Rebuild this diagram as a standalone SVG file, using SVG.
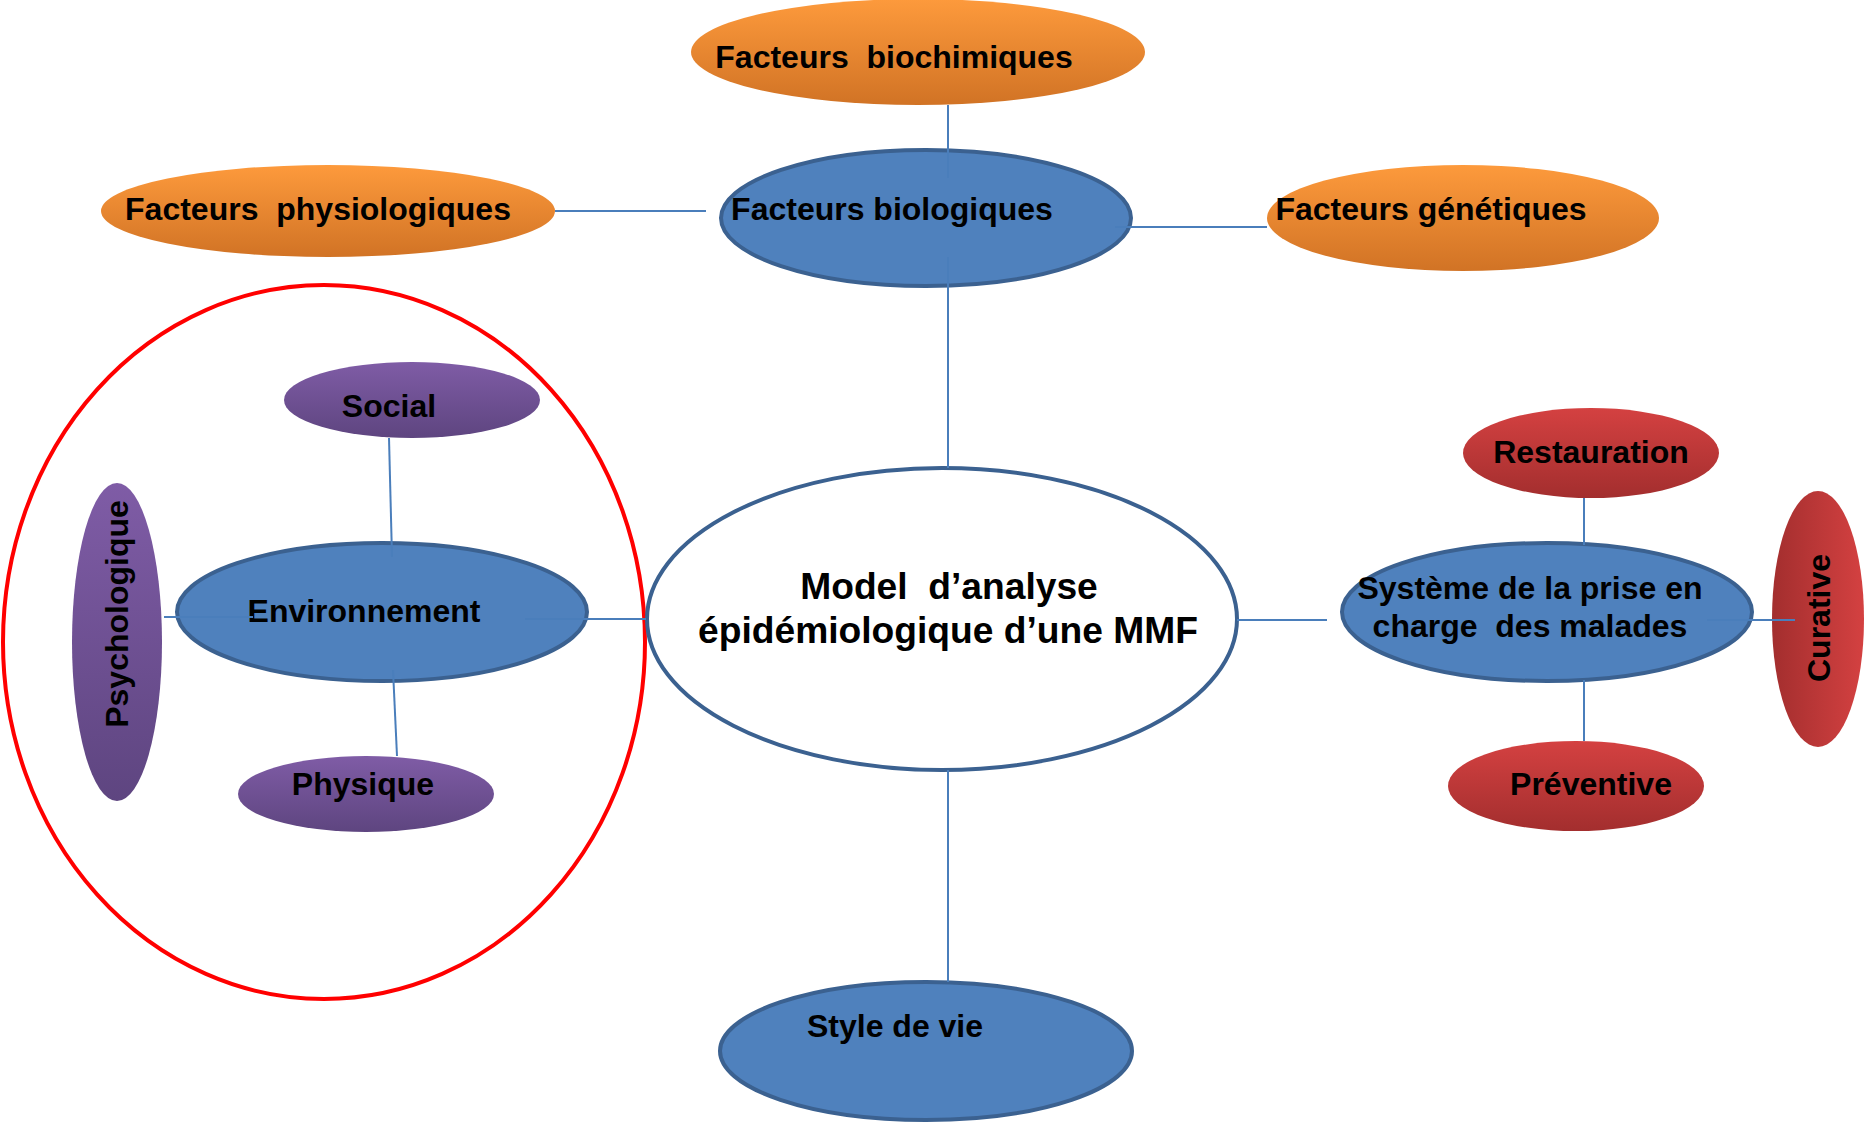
<svg xmlns="http://www.w3.org/2000/svg" width="1865" height="1123" viewBox="0 0 1865 1123">
<defs>
<linearGradient id="gOrange" x1="0" y1="0" x2="0" y2="1"><stop offset="0" stop-color="#fd9a3c"/><stop offset="1" stop-color="#d17325"/></linearGradient>
<linearGradient id="gPurple" x1="0" y1="0" x2="0" y2="1"><stop offset="0" stop-color="#7f5ca6"/><stop offset="1" stop-color="#5e4580"/></linearGradient>
<linearGradient id="gRed" x1="0" y1="0" x2="0" y2="1"><stop offset="0" stop-color="#d44141"/><stop offset="1" stop-color="#a32e2e"/></linearGradient>
<linearGradient id="gRedH" x1="1" y1="0" x2="0" y2="0"><stop offset="0" stop-color="#d44141"/><stop offset="1" stop-color="#a32e2e"/></linearGradient>
</defs>
<style>
text{font-family:"Liberation Sans",Arial,sans-serif;font-weight:bold;fill:#000;white-space:pre}
.t32{font-size:32px}
.t37{font-size:37.2px}
.blue{fill:#4f81bd;stroke:#3b6190;stroke-width:4}
.orange{fill:url(#gOrange)}
.purple{fill:url(#gPurple)}
.red{fill:url(#gRed)}
.conn{stroke:#4a7ebb;stroke-width:2;fill:none}
</style>
<rect width="1865" height="1123" fill="#fff"/>
<g id="group-boundary"><ellipse cx="324" cy="642" rx="321" ry="357" fill="none" stroke="#ff0000" stroke-width="4"/></g>
<g id="node-biochimiques"><ellipse class="orange" cx="918" cy="52" rx="227" ry="53"/><text class="t32" x="894" y="68" text-anchor="middle">Facteurs  biochimiques</text></g>
<g id="node-physiologiques"><ellipse class="orange" cx="328" cy="211" rx="227" ry="46"/><text class="t32" x="318" y="220" text-anchor="middle">Facteurs  physiologiques</text></g>
<g id="node-genetiques"><ellipse class="orange" cx="1463" cy="218" rx="196" ry="53"/><text class="t32" x="1431" y="220" text-anchor="middle">Facteurs génétiques</text></g>
<g id="node-biologiques"><ellipse class="blue" cx="926" cy="218" rx="205" ry="68"/><text class="t32" x="892" y="220" text-anchor="middle">Facteurs biologiques</text></g>
<g id="node-social"><ellipse class="purple" cx="412" cy="400" rx="128" ry="38"/><text class="t32" x="389" y="417" text-anchor="middle">Social</text></g>
<g id="node-psychologique"><ellipse class="purple" cx="117" cy="642" rx="45" ry="159"/><text class="t32" transform="translate(128,614) rotate(-90)" x="0" y="0" text-anchor="middle">Psychologique</text></g>
<g id="node-environnement"><ellipse class="blue" cx="382" cy="612" rx="205" ry="69"/><text class="t32" x="364" y="622" text-anchor="middle">Environnement</text></g>
<g id="node-physique"><ellipse class="purple" cx="366" cy="794" rx="128" ry="38"/><text class="t32" x="363" y="795" text-anchor="middle">Physique</text></g>
<g id="node-center"><ellipse cx="942" cy="619" rx="295" ry="151" fill="#fff" stroke="#3b6190" stroke-width="4"/><text class="t37" x="949" y="599" text-anchor="middle">Model  d’analyse</text><text class="t37" x="948" y="643" text-anchor="middle">épidémiologique d’une MMF</text></g>
<g id="node-restauration"><ellipse class="red" cx="1591" cy="453" rx="128" ry="45"/><text class="t32" x="1591" y="463" text-anchor="middle">Restauration</text></g>
<g id="node-systeme"><ellipse class="blue" cx="1547" cy="612" rx="205" ry="69"/><text class="t32" x="1530" y="599" text-anchor="middle">Système de la prise en</text><text class="t32" x="1530" y="637" text-anchor="middle">charge  des malades</text></g>
<g id="node-curative"><ellipse fill="url(#gRedH)" cx="1818" cy="619" rx="46" ry="128"/><text class="t32" transform="translate(1830,618) rotate(-90)" x="0" y="0" text-anchor="middle">Curative</text></g>
<g id="node-preventive"><ellipse class="red" cx="1576" cy="786" rx="128" ry="45"/><text class="t32" x="1591" y="795" text-anchor="middle">Préventive</text></g>
<g id="node-style"><ellipse class="blue" cx="926" cy="1051" rx="206" ry="69"/><text class="t32" x="895" y="1037" text-anchor="middle">Style de vie</text></g>
<g id="connectors">
<line class="conn" x1="948" y1="105" x2="948" y2="178"/>
<line class="conn" x1="948" y1="257" x2="948" y2="468"/>
<line class="conn" x1="555" y1="211" x2="706" y2="211"/>
<line class="conn" x1="1115" y1="227" x2="1267" y2="227"/>
<line class="conn" x1="389" y1="438" x2="392" y2="557"/>
<line class="conn" x1="393" y1="670" x2="397" y2="756"/>
<line class="conn" x1="164" y1="617" x2="253" y2="617"/>
<line class="conn" x1="525" y1="619" x2="646" y2="619"/>
<line class="conn" x1="1237" y1="620" x2="1327" y2="620"/>
<line class="conn" x1="1584" y1="498" x2="1584" y2="545"/>
<line class="conn" x1="1584" y1="680" x2="1584" y2="741"/>
<line class="conn" x1="1707" y1="620" x2="1795" y2="620"/>
<line class="conn" x1="948" y1="770" x2="948" y2="982"/>
</g>
</svg>
